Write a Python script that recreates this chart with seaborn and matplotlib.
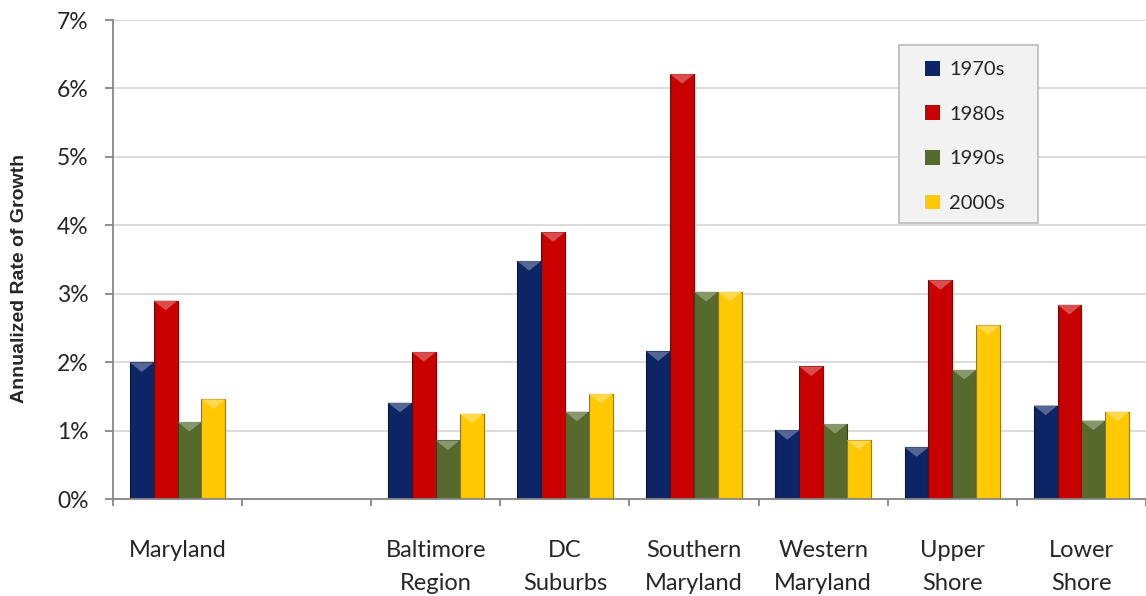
import numpy as np
import pandas as pd
import matplotlib
matplotlib.use("Agg")
import matplotlib.pyplot as plt
import matplotlib.colors as mcolors
from matplotlib.patches import Polygon, Rectangle
from matplotlib.ticker import FuncFormatter, FixedLocator
import seaborn as sns

# Regions (an empty slot separates the state total from the regions)
regions = ["Maryland", "", "Baltimore\nRegion", "DC\nSuburbs", "Southern\nMaryland",
           "Western\nMaryland", "Upper\nShore", "Lower\nShore"]
decades = ["1970s", "1980s", "1990s", "2000s"]

# Annualized growth rate (%) by decade
growth_1970s = [2.00, None, 1.41, 3.48, 2.16, 1.01, 0.76, 1.37]
growth_1980s = [2.90, None, 2.15, 3.90, 6.21, 1.94, 3.20, 2.84]
growth_1990s = [1.13, None, 0.86, 1.28, 3.03, 1.10, 1.89, 1.15]
growth_2000s = [1.46, None, 1.25, 1.54, 3.03, 0.86, 2.54, 1.28]

series = {"1970s": growth_1970s, "1980s": growth_1980s,
          "1990s": growth_1990s, "2000s": growth_2000s}
rows = []
for dec, vals in series.items():
    for reg, v in zip(regions, vals):
        if v is not None:
            rows.append({"region": reg, "decade": dec, "growth": v})
df = pd.DataFrame(rows)

palette = {"1970s": "#0b2566", "1980s": "#c80000", "1990s": "#556a2c", "2000s": "#ffc800"}

sns.set_theme(style="white")
plt.rcParams["font.family"] = ["Lato", "DejaVu Sans"]

fig = plt.figure(figsize=(11.46, 5.96), dpi=100)
ax = fig.add_axes([0.0986, 0.1622, 0.9014, 0.8042])

sns.barplot(data=df, x="region", y="growth", hue="decade", order=regions,
            hue_order=decades, palette=palette, width=0.74, saturation=1,
            edgecolor="none", ax=ax, legend=True)

# Bevelled top on each bar
for bar in ax.patches:
    h = bar.get_height()
    if not np.isfinite(h) or h <= 0:
        continue
    x0 = bar.get_x()
    w = bar.get_width()
    col = np.array(mcolors.to_rgb(bar.get_facecolor()))
    bar.set_edgecolor(tuple(col * 0.6))
    bar.set_linewidth(0.8)
    light = tuple(col + (1 - col) * 0.3)
    d = 0.14
    tri = Polygon([[x0, h], [x0 + w, h], [x0 + w / 2, h - d]], closed=True,
                  facecolor=light, edgecolor="none", zorder=bar.get_zorder() + 0.1)
    ax.add_patch(tri)

ax.set_ylim(0, 7)
ax.set_xlim(-0.5, len(regions) - 0.5)
ax.yaxis.set_major_locator(FixedLocator(np.arange(0, 8, 1)))
ax.yaxis.set_major_formatter(FuncFormatter(lambda v, p: f"{v:.0f}%"))
ax.grid(axis="y", color="#d9d9d9", linewidth=1.3)
ax.set_axisbelow(True)

for s in ["top", "right"]:
    ax.spines[s].set_visible(False)
for s in ["left", "bottom"]:
    ax.spines[s].set_color("#868686")
    ax.spines[s].set_linewidth(1.3)

# Labels centred on groups, tick marks on group boundaries
ax.set_xticks(range(len(regions)))
ax.set_xticklabels(regions, fontsize=17, linespacing=1.7, va="top")
ax.tick_params(axis="x", which="major", length=0, pad=29)
ax.set_xticks(np.arange(-0.5, len(regions), 1), minor=True)
ax.tick_params(axis="x", which="minor", length=5, width=1.3, color="#868686",
               direction="out", bottom=True)
ax.tick_params(axis="y", length=5.5, width=1.3, color="#868686", direction="out",
               left=True, labelsize=16.5, pad=12)

ax.set_xlabel("")
ax.set_ylabel("Annualized Rate of Growth", fontsize=14, fontweight="bold",
              family=["Liberation Sans", "DejaVu Sans"])
ax.yaxis.set_label_coords(-0.082, 0.46)

# Legend panel
panel = Rectangle((0.761, 0.5765), 0.1346, 0.3714, transform=ax.transAxes,
                  facecolor="#f2f2f2", edgecolor="#bfbfbf", linewidth=1.3, zorder=4)
ax.add_patch(panel)
leg = ax.legend(loc="upper left", bbox_to_anchor=(0.786, 0.915), fontsize=14.5,
                frameon=False, handlelength=0.75, handleheight=0.75,
                labelspacing=1.35, borderpad=0, handletextpad=0.45,
                borderaxespad=0)
leg.set_zorder(5)

fig.savefig("out.png", dpi=100)
